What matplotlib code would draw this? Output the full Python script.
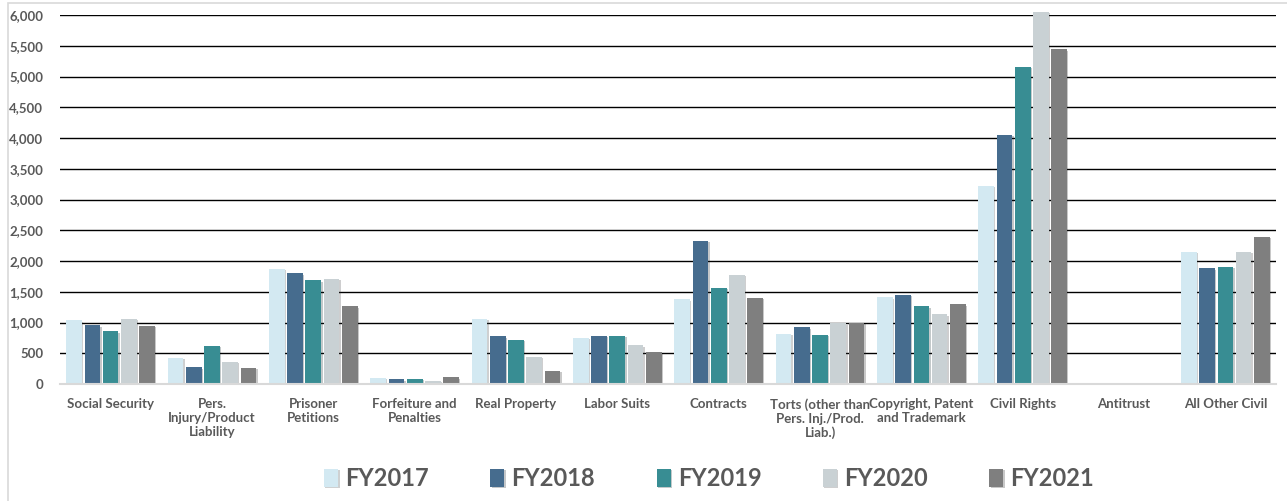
import matplotlib.pyplot as plt
import matplotlib.patheffects as pe
from matplotlib.patches import Rectangle
from matplotlib.ticker import FuncFormatter
import numpy as np

categories = ["Social Security", "Pers.\nInjury/Product\nLiability", "Prisoner\nPetitions",
              "Forfeiture and\nPenalties", "Real Property", "Labor Suits", "Contracts",
              "Torts (other than\nPers. Inj./Prod.\nLiab.)", "Copyright, Patent\nand Trademark",
              "Civil Rights", "Antitrust", "All Other Civil"]
years = ["FY2017", "FY2018", "FY2019", "FY2020", "FY2021"]
fy2017 = [1035, 424, 1876, 100, 1060, 750, 1375, 816, 1413, 3220, 10, 2146]
fy2018 = [955, 271, 1799, 75, 777, 783, 2325, 924, 1446, 4049, 15, 1881]
fy2019 = [855, 625, 1685, 85, 723, 783, 1560, 804, 1261, 5160, 15, 1902]
fy2020 = [1060, 364, 1713, 55, 440, 630, 1778, 989, 1136, 6050, 20, 2150]
fy2021 = [945, 261, 1261, 108, 217, 515, 1403, 1000, 1299, 5441, 10, 2390]
colors = ["#d3e9f2", "#466c8e", "#388d93", "#c9d1d4", "#7f7f7f"]

plt.rcParams['font.family'] = ['Lato', 'DejaVu Sans']

fig = plt.figure(figsize=(12.87, 5.01), dpi=100)
fig.patches.append(Rectangle((0.006, -0.01), 1.0, 1.004, transform=fig.transFigure,
                             fill=False, edgecolor="#d9d9d9", linewidth=1.2))
ax = fig.add_axes([0.0466, 0.2335, 0.9449, 0.7365])

x = np.arange(len(categories))
w = 0.18
series = [fy2017, fy2018, fy2019, fy2020, fy2021]
shadow = [pe.SimplePatchShadow(offset=(1.0, -1.0), alpha=0.25), pe.Normal()]
for i, (vals, c, lab) in enumerate(zip(series, colors, years)):
    bars = ax.bar(x + (i - 2) * w, vals, width=0.155, color=c, label=lab, zorder=3, clip_on=False)
    for b in bars:
        b.set_path_effects(shadow)

ax.set_xlim(-0.5, len(categories) - 0.5)
ax.set_ylim(0, 6000)
ax.set_yticks(np.arange(0, 6001, 500))
ax.yaxis.set_major_formatter(FuncFormatter(lambda v, p: f"{int(v):,}"))
ax.grid(axis="y", color="black", linewidth=1.0, zorder=0)
ax.set_xticks(x)
ax.set_xticklabels(categories)
for s in ["top", "right", "left"]:
    ax.spines[s].set_visible(False)
ax.spines["bottom"].set_color("#d9d9d9")
ax.spines["bottom"].set_linewidth(1.5)
ax.spines["bottom"].set_zorder(4)
ax.tick_params(axis="both", length=0, labelcolor="#595959", labelsize=9.5)
ax.tick_params(axis="x", pad=10)
ax.tick_params(axis="y", pad=12)
for t in ax.get_xticklabels() + ax.get_yticklabels():
    t.set_fontweight("bold")
# first gridline (0) hidden under spine
ax.yaxis.get_gridlines()[0].set_visible(False)

leg = fig.legend(loc="center", bbox_to_anchor=(0.551, 0.045), ncol=5, frameon=False,
                 prop={"weight": "bold", "size": 17}, labelcolor="#595959",
                 handlelength=0.6, handleheight=0.8, handletextpad=0.3, columnspacing=2.6)

fig.savefig("out.png", dpi=100)
